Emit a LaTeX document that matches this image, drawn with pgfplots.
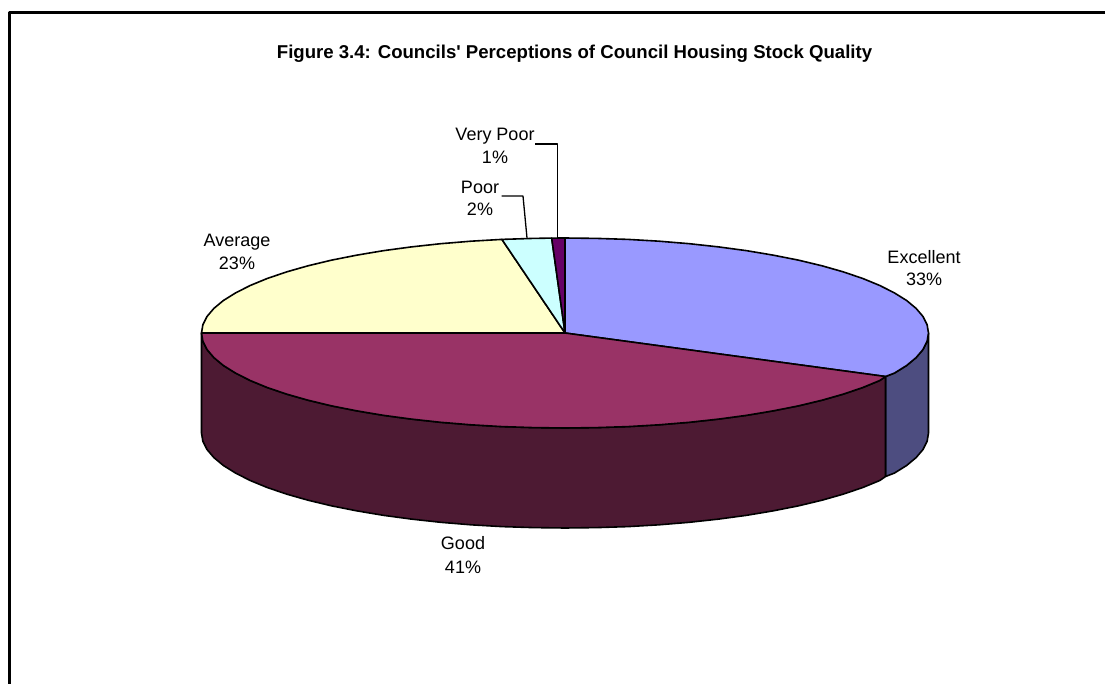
\documentclass[border=0pt]{standalone}
\usepackage{fontspec}
\setmainfont{Liberation Sans}
\usepackage{pgfplots}
\pgfplotsset{compat=1.18}
\definecolor{excellent}{HTML}{9999FF}
\definecolor{excellentside}{HTML}{4D4D80}
\definecolor{good}{HTML}{993366}
\definecolor{goodside}{HTML}{4D1A33}
\definecolor{average}{HTML}{FFFFCC}
\definecolor{poor}{HTML}{CCFFFF}
\definecolor{verypoor}{HTML}{660066}
\newcommand{\lab}{\fontsize{18}{22}\selectfont}
\begin{document}
\begin{tikzpicture}
\useasboundingbox (0,0) rectangle (1105pt,684pt);
\begin{axis}[
  at={(0,0)}, anchor=south west,
  scale only axis, width=1105pt, height=684pt,
  xmin=0, xmax=1105, ymin=0, ymax=684, y dir=reverse,
  hide axis, clip=false,
  every axis plot/.append style={line width=1.6pt, line join=round},
]
% chart frame: left and top edges only
\addplot[black, line width=2.2pt] coordinates {(9.5,684) (9.5,12.5) (1105,12.5)};

% side walls
\addplot[fill=excellentside, draw=black] coordinates {
  (928.5,333) (927.1,341.3) (923,349.5) (916.1,357.6) (906.6,365.5) (894.4,373.1) (885.5,376.5)
  (885.5,476.5) (894.4,473.1) (906.6,465.5) (916.1,457.6) (923,449.5) (927.1,441.3) (928.5,433)
} -- cycle;
\addplot[fill=goodside, draw=black] coordinates {
  (885.5,376.5) (879.8,380.5) (862.8,387.5) (843.4,394.1) (822,400.2) (798.7,405.8) (773.5,410.8)
  (746.8,415.3) (718.6,419.1) (689.3,422.3) (659.1,424.8) (628.1,426.6) (596.7,427.6) (565,428)
  (533.3,427.6) (501.9,426.6) (470.9,424.8) (440.7,422.3) (411.4,419.1) (383.2,415.3) (356.5,410.8)
  (331.3,405.8) (308,400.2) (286.6,394.1) (267.2,387.5) (250.2,380.5) (235.6,373.1) (223.4,365.5)
  (213.9,357.6) (207,349.5) (202.9,341.3) (201.5,333)
  (201.5,433) (202.9,441.3) (207,449.5) (213.9,457.6) (223.4,465.5) (235.6,473.1) (250.2,480.5)
  (267.2,487.5) (286.6,494.1) (308,500.2) (331.3,505.8) (356.5,510.8) (383.2,515.3) (411.4,519.1)
  (440.7,522.3) (470.9,524.8) (501.9,526.6) (533.3,527.6) (565,528) (596.7,527.6) (628.1,526.6)
  (659.1,524.8) (689.3,522.3) (718.6,519.1) (746.8,515.3) (773.5,510.8) (798.7,505.8) (822,500.2)
  (843.4,494.1) (862.8,487.5) (879.8,480.5) (885.5,476.5)
} -- cycle;

% top face, slice by slice
\addplot[fill=excellent, draw=black] coordinates {
  (565,333) (565,238) (596.7,238.4) (628.1,239.4) (659.1,241.2) (689.3,243.7) (718.6,246.9)
  (746.8,250.7) (773.5,255.2) (798.7,260.2) (822,265.8) (843.4,271.9) (862.8,278.5) (879.8,285.5)
  (894.4,292.9) (906.6,300.5) (916.1,308.4) (923,316.5) (927.1,324.7) (928.5,333) (927.1,341.3)
  (923,349.5) (916.1,357.6) (906.6,365.5) (894.4,373.1) (885.5,376.5)
} -- cycle;
\addplot[fill=good, draw=black] coordinates {
  (565,333) (885.5,376.5) (879.8,380.5) (862.8,387.5) (843.4,394.1) (822,400.2) (798.7,405.8)
  (773.5,410.8) (746.8,415.3) (718.6,419.1) (689.3,422.3) (659.1,424.8) (628.1,426.6) (596.7,427.6)
  (565,428) (533.3,427.6) (501.9,426.6) (470.9,424.8) (440.7,422.3) (411.4,419.1) (383.2,415.3)
  (356.5,410.8) (331.3,405.8) (308,400.2) (286.6,394.1) (267.2,387.5) (250.2,380.5) (235.6,373.1)
  (223.4,365.5) (213.9,357.6) (207,349.5) (202.9,341.3) (201.5,333)
} -- cycle;
\addplot[fill=average, draw=black] coordinates {
  (565,333) (201.5,333) (202.9,324.7) (207,316.5) (213.9,308.4) (223.4,300.5) (235.6,292.9)
  (250.2,285.5) (267.2,278.5) (286.6,271.9) (308,265.8) (331.3,260.2) (356.5,255.2) (383.2,250.7)
  (411.4,246.9) (440.7,243.7) (470.9,241.2) (501.9,239.4)
} -- cycle;
\addplot[fill=poor, draw=black] coordinates {
  (565,333) (501.9,239.4) (533.3,238.4) (551.7,238.1)
} -- cycle;
\addplot[fill=verypoor, draw=black] coordinates {
  (565,333) (551.7,238.1) (565,238)
} -- cycle;

% leader lines
\addplot[black, line width=1.3pt] coordinates {(501.5,196) (523,196) (527,238)};
\addplot[black, line width=1.3pt] coordinates {(535,144) (557.7,144) (557.7,238)};

\node[font=\bfseries\fontsize{18.6}{22}\selectfont] at (axis cs:574.5,54) {Figure 3.4: Councils\textquotesingle{} Perceptions of Council Housing Stock Quality};
\node[font=\lab] at (axis cs:924,257) {Excellent};
\node[font=\lab] at (axis cs:924,279) {33\%};
\node[font=\lab] at (axis cs:463,543) {Good};
\node[font=\lab] at (axis cs:463,567) {41\%};
\node[font=\lab] at (axis cs:237,242) {Average};
\node[font=\lab] at (axis cs:237,263) {23\%};
\node[font=\lab] at (axis cs:480,187) {Poor};
\node[font=\lab] at (axis cs:480,209) {2\%};
\node[font=\lab] at (axis cs:495,136) {Very Poor};
\node[font=\lab] at (axis cs:495,157) {1\%};
\end{axis}
\end{tikzpicture}
\end{document}
